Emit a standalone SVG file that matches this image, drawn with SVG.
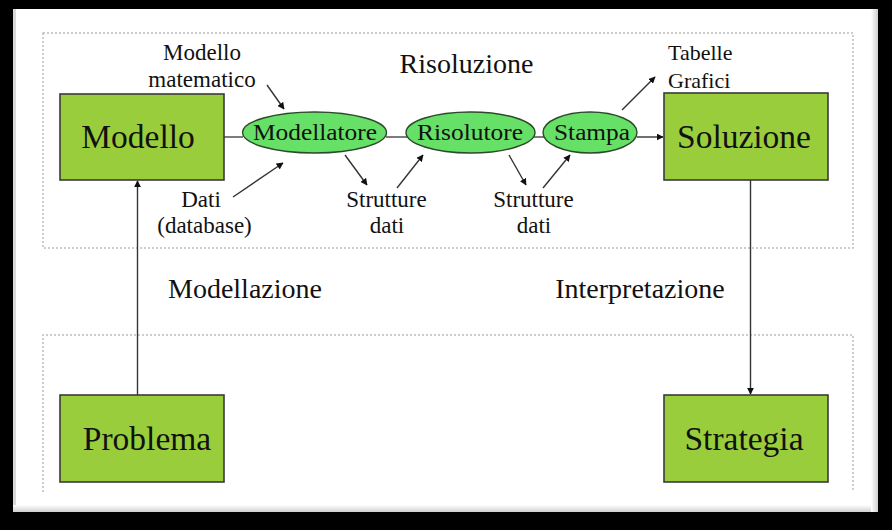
<svg xmlns="http://www.w3.org/2000/svg" width="892" height="530" viewBox="0 0 892 530">
<defs>
<style>
.t{font-family:"Liberation Serif","Times New Roman",serif;fill:#111;}
.box{fill:#9acd3c;stroke:#3a3a3a;stroke-width:1.6;}
.ell{fill:#66e066;stroke:#2a4a2a;stroke-width:1.4;}
.dash{fill:none;stroke:#bdbdbd;stroke-width:1.5;stroke-dasharray:2 2;}
.ln{fill:none;stroke:#444;stroke-width:1.4;}
.ar{fill:none;stroke:#333;stroke-width:1.4;marker-end:url(#ah);}
</style>
<marker id="ah" viewBox="0 0 10 10" refX="9" refY="5" markerWidth="7" markerHeight="7" markerUnits="userSpaceOnUse" orient="auto">
<path d="M0,0 L10,5 L0,10 z" fill="#111"/>
</marker>
<linearGradient id="gb" x1="0" y1="0" x2="0" y2="1"><stop offset="0" stop-color="#fff"/><stop offset="1" stop-color="#cfcfcf"/></linearGradient>
<linearGradient id="gr" x1="0" y1="0" x2="1" y2="0"><stop offset="0" stop-color="#fff"/><stop offset="1" stop-color="#cfcfcf"/></linearGradient>
</defs>
<rect x="0" y="0" width="892" height="530" fill="#000"/>
<rect x="13" y="9" width="865" height="503" fill="#fff"/>
<rect x="13" y="9" width="3" height="503" fill="#d8d8d8"/>
<rect x="13" y="505" width="865" height="7" fill="url(#gb)"/>
<rect x="871" y="9" width="7" height="503" fill="url(#gr)"/>

<g id="regions">
<rect class="dash" x="43" y="33" width="810" height="215"/>
<path class="dash" d="M43,492 L43,335 L853,335 L853,492"/>
</g>

<g id="connectors">
<line class="ln" x1="224" y1="137" x2="243" y2="137"/>
<line class="ln" x1="386" y1="137" x2="407" y2="137"/>
<line class="ln" x1="534" y1="137" x2="544" y2="137"/>
<line class="ar" x1="637" y1="137" x2="663" y2="137"/>
<line class="ar" x1="267" y1="85" x2="284" y2="109"/>
<line class="ar" x1="233" y1="197" x2="283" y2="163"/>
<line class="ar" x1="345" y1="155" x2="367" y2="185"/>
<line class="ar" x1="397" y1="188" x2="423" y2="155"/>
<line class="ar" x1="509" y1="155" x2="526" y2="185"/>
<line class="ar" x1="543" y1="188" x2="570" y2="155"/>
<line class="ar" x1="622" y1="110" x2="655" y2="77"/>
<line class="ar" x1="137.5" y1="395" x2="137.5" y2="181"/>
<line class="ar" x1="750.5" y1="180" x2="750.5" y2="394"/>
</g>

<g id="modello">
<rect class="box" x="60" y="94" width="164" height="86"/>
<text class="t" x="138" y="148" font-size="33.5" text-anchor="middle">Modello</text>
</g>
<g id="soluzione">
<rect class="box" x="664" y="93" width="164" height="87"/>
<text class="t" x="744" y="148" font-size="33.5" text-anchor="middle">Soluzione</text>
</g>
<g id="problema">
<rect class="box" x="60" y="395" width="164" height="87"/>
<text class="t" x="147" y="450" font-size="33.5" text-anchor="middle">Problema</text>
</g>
<g id="strategia">
<rect class="box" x="664" y="395" width="164" height="87"/>
<text class="t" x="744" y="450" font-size="33.5" text-anchor="middle">Strategia</text>
</g>

<g id="modellatore">
<ellipse class="ell" cx="314.5" cy="132.5" rx="72" ry="20.5"/>
<text class="t" x="315" y="140" font-size="24" text-anchor="middle" textLength="124" lengthAdjust="spacingAndGlyphs">Modellatore</text>
</g>
<g id="risolutore">
<ellipse class="ell" cx="470.5" cy="132.5" rx="64.5" ry="20.5"/>
<text class="t" x="470" y="140" font-size="24" text-anchor="middle" textLength="106" lengthAdjust="spacingAndGlyphs">Risolutore</text>
</g>
<g id="stampa">
<ellipse class="ell" cx="590" cy="132.5" rx="47" ry="20.5"/>
<text class="t" x="592" y="140" font-size="24" text-anchor="middle" textLength="76" lengthAdjust="spacingAndGlyphs">Stampa</text>
</g>

<g id="labels">
<text class="t" x="202" y="60" font-size="23" text-anchor="middle">Modello</text>
<text class="t" x="202" y="87" font-size="23" text-anchor="middle">matematico</text>
<text class="t" x="201" y="207" font-size="23" text-anchor="middle">Dati</text>
<text class="t" x="204.5" y="233" font-size="23" text-anchor="middle">(database)</text>
<text class="t" x="386.5" y="207" font-size="23" text-anchor="middle">Strutture</text>
<text class="t" x="387" y="233" font-size="23" text-anchor="middle">dati</text>
<text class="t" x="533.5" y="207" font-size="23" text-anchor="middle">Strutture</text>
<text class="t" x="534" y="233" font-size="23" text-anchor="middle">dati</text>
<text class="t" x="668" y="60" font-size="22">Tabelle</text>
<text class="t" x="668" y="88" font-size="22">Grafici</text>
<text class="t" x="466.5" y="73" font-size="28" text-anchor="middle">Risoluzione</text>
<text class="t" x="245" y="298" font-size="28" text-anchor="middle">Modellazione</text>
<text class="t" x="640" y="298" font-size="28" text-anchor="middle">Interpretazione</text>
</g>
</svg>
